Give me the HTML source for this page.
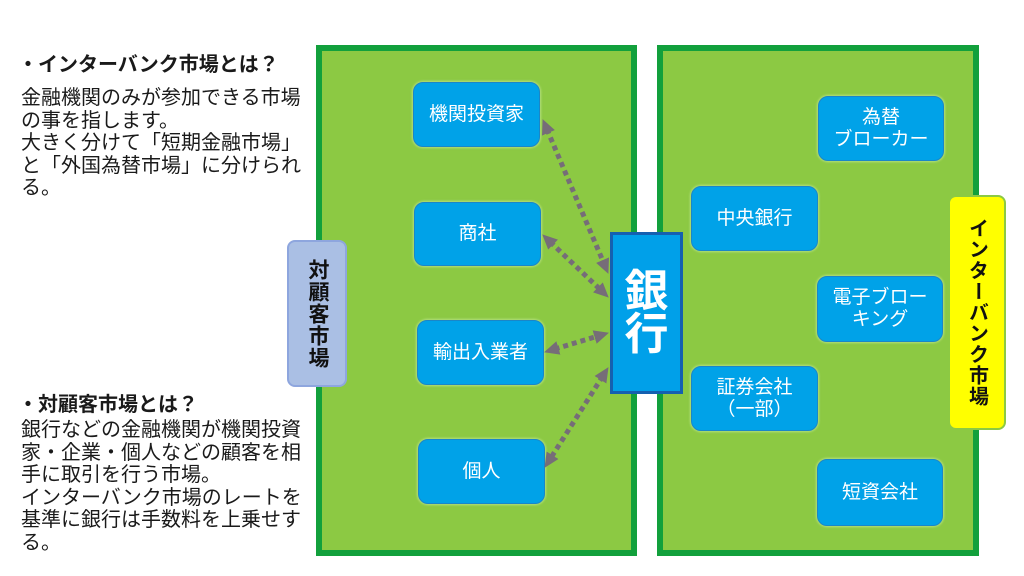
<!DOCTYPE html>
<html>
<head>
<meta charset="utf-8">
<style>
  html,body{margin:0;padding:0;background:#fff;}
  body{width:1024px;height:576px;position:relative;overflow:hidden;
    font-family:"Liberation Sans","Noto Sans CJK JP",sans-serif;color:#1a1a1a;}
  .abs{position:absolute;}
  .txt{white-space:nowrap;font-size:20px;line-height:22.6px;}
  .head{font-weight:bold;}
  .panel{position:absolute;box-sizing:border-box;background:#8cc943;border:6px solid #12a03c;}
  .node{position:absolute;box-sizing:border-box;background:#00a2e8;border:1px solid #1a86c8;
    border-radius:10px;color:#fff;font-size:19px;line-height:22px;text-align:center;
    display:flex;align-items:center;justify-content:center;
    box-shadow:0 0 2px 1px rgba(190,230,140,0.8);}
  .vlabel{position:absolute;box-sizing:border-box;border-radius:8px;
    display:flex;align-items:center;justify-content:center;}
  .vtext{writing-mode:vertical-rl;text-orientation:upright;font-weight:bold;color:#111;}
</style>
</head>
<body>

<!-- Left text blocks -->
<div class="abs txt head" style="left:18px;top:54px;">・インターバンク市場とは？</div>
<div class="abs txt" style="left:21px;top:87px;">金融機関のみが参加できる市場<br>の事を指します。<br>大きく分けて「短期金融市場」<br>と「外国為替市場」に分けられ<br>る。</div>

<div class="abs txt head" style="left:18px;top:394px;">・対顧客市場とは？</div>
<div class="abs txt" style="left:21px;top:419px;">銀行などの金融機関が機関投資<br>家・企業・個人などの顧客を相<br>手に取引を行う市場。<br>インターバンク市場のレートを<br>基準に銀行は手数料を上乗せす<br>る。</div>

<!-- Panels -->
<div class="panel" style="left:316px;top:45px;width:321px;height:511px;"></div>
<div class="panel" style="left:657px;top:45px;width:322px;height:511px;"></div>

<!-- Left nodes -->
<div class="node" style="left:413px;top:82px;width:127px;height:65px;">機関投資家</div>
<div class="node" style="left:414px;top:202px;width:127px;height:64px;">商社</div>
<div class="node" style="left:417px;top:320px;width:127px;height:65px;">輸出入業者</div>
<div class="node" style="left:418px;top:439px;width:127px;height:65px;">個人</div>

<!-- Right nodes -->
<div class="node" style="left:818px;top:96px;width:126px;height:65px;">為替<br>ブローカー</div>
<div class="node" style="left:691px;top:186px;width:127px;height:65px;">中央銀行</div>
<div class="node" style="left:817px;top:276px;width:126px;height:66px;">電子ブロー<br>キング</div>
<div class="node" style="left:691px;top:366px;width:127px;height:65px;">証券会社<br>（一部）</div>
<div class="node" style="left:817px;top:459px;width:126px;height:67px;">短資会社</div>

<!-- Arrows -->
<svg class="abs" style="left:0;top:0;" width="1024" height="576" viewBox="0 0 1024 576">
  <defs>
    <marker id="ah" markerUnits="userSpaceOnUse" markerWidth="16" markerHeight="16" refX="4" refY="7" orient="auto-start-reverse">
      <path d="M0,0 L15,7 L0,14 z" fill="#766d78"/>
    </marker>
  </defs>
  <g stroke="#766d78" stroke-width="5" stroke-dasharray="5 4" fill="none">
    <line x1="546.9" y1="129.2" x2="604.1" y2="263.8" marker-start="url(#ah)" marker-end="url(#ah)"/>
    <line x1="550.2" y1="241.9" x2="600.8" y2="290.1" marker-start="url(#ah)" marker-end="url(#ah)"/>
    <line x1="554.6" y1="349.1" x2="598.4" y2="335.9" marker-start="url(#ah)" marker-end="url(#ah)"/>
    <line x1="602.6" y1="376.4" x2="550.4" y2="458.6" marker-start="url(#ah)" marker-end="url(#ah)"/>
  </g>
</svg>

<!-- Bank -->
<div class="abs" style="left:610px;top:232px;width:73px;height:162px;box-sizing:border-box;background:#00a0e9;border:3px solid #1560b0;display:flex;align-items:center;justify-content:center;">
  <div style="color:#fff;font-weight:bold;font-size:44px;line-height:43px;text-align:center;">銀<br>行</div>
</div>

<!-- Side labels -->
<div class="vlabel" style="left:287px;top:240px;width:60px;height:147px;background:#aabfe4;border:2px solid #8ea6de;">
  <div class="vtext" style="font-size:21px;letter-spacing:1px;">対顧客市場</div>
</div>
<div class="vlabel" style="left:948px;top:195px;width:58px;height:235px;background:#ffff00;border:2px solid #8cc943;">
  <div class="vtext" style="font-size:20px;letter-spacing:1px;">インターバンク市場</div>
</div>

</body>
</html>
